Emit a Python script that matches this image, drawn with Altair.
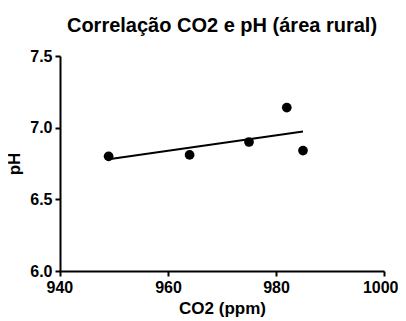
import altair as alt
import pandas as pd

co2 = [949, 964, 975, 982, 985]
ph = [6.80, 6.81, 6.90, 7.14, 6.84]
x_ticks = [940, 960, 980, 1000]
y_ticks = [6.0, 6.5, 7.0, 7.5]

df = pd.DataFrame({"CO2": co2, "pH": ph})

FONT = "Liberation Sans"

x = alt.X("CO2:Q", scale=alt.Scale(domain=[940, 1000], nice=False, zero=False),
          axis=alt.Axis(title="CO2 (ppm)", values=x_ticks, format="d",
                        labelFlush=True, labelFlushOffset=14))
y = alt.Y("pH:Q", scale=alt.Scale(domain=[6.0, 7.5], nice=False, zero=False),
          axis=alt.Axis(title="pH", values=y_ticks, format=".1f"))

base = alt.Chart(df)
pts = base.mark_circle(size=95, color="black", opacity=1).encode(x=x, y=y)
line = base.transform_regression("CO2", "pH").mark_line(color="black", strokeWidth=2).encode(x=x, y=y)

chart = (line + pts).properties(
    width=324, height=215,
    title=alt.TitleParams("Correlação CO2 e pH (área rural)", font=FONT, fontSize=20,
                          fontWeight="bold", color="black", anchor="middle", offset=12),
    autosize=alt.AutoSizeParams(type="none"),
    padding={"left": 52, "top": 48, "right": 14, "bottom": 60},
).configure_view(stroke=None).configure_axis(
    grid=False, domainColor="black", domainWidth=2, tickColor="black", tickWidth=2,
    tickSize=5, labelFont=FONT, labelFontSize=16, labelFontWeight="bold", labelColor="black",
    titleFont=FONT, titleFontSize=17, titleFontWeight="bold", titleColor="black",
    labelPadding=3,
).configure_axisX(titlePadding=5).configure_axisY(titlePadding=6)

chart.save("out.html", embed_options={"renderer": "svg", "actions": False})
